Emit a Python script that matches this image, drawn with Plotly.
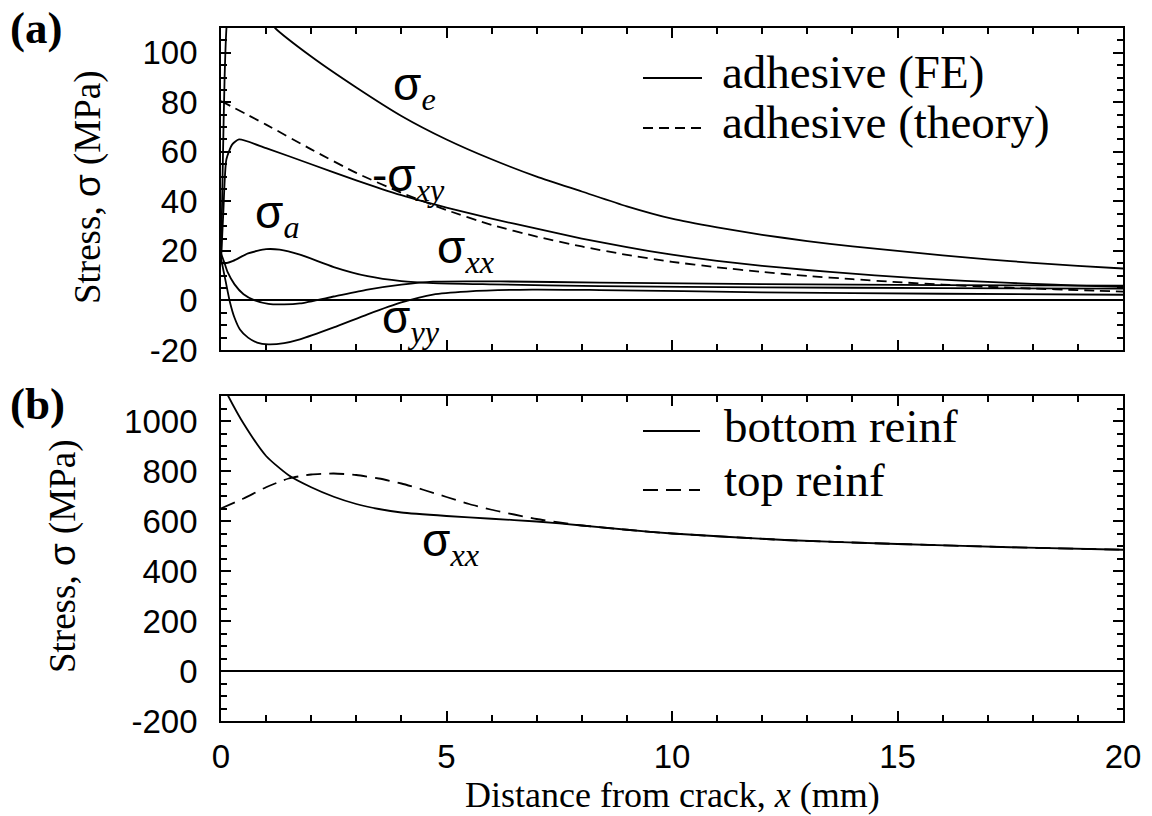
import plotly.graph_objects as go

# ---------------- data ----------------
# Panel (a): adhesive stresses (MPa) vs distance from crack x (mm)
se_x = [0, 0.04, 0.08, 0.13, 0.3, 0.7, 1.2, 2, 3, 4, 5, 6, 7, 8, 9, 10, 11, 12, 13, 14, 15, 16, 17, 18, 19, 20]
se_y = [16, 55, 90, 112, 130, 122, 110, 98.5, 86, 74.5, 65, 57, 50, 44, 38, 33, 29.5, 26.5, 24, 21.8, 20, 18.2, 16.6, 15.2, 14, 12.9]

sxy_x = [0, 0.05, 0.12, 0.25, 0.4, 1, 2, 3, 4, 5, 6, 7, 8, 9, 10, 11, 12, 13, 14, 15, 16, 17, 18, 19, 20]
sxy_y = [16, 35, 57, 63, 65, 61.5, 55, 48.5, 42.5, 37.5, 33, 29, 25, 21.5, 18.5, 16, 14, 12.3, 10.8, 9.5, 8.4, 7.5, 6.7, 6.0, 5.5]

theory_x = [0, 1, 2, 3, 4, 5, 6, 7, 8, 9, 10, 11, 12, 13, 14, 15, 16, 17, 18, 19, 20]
theory_y = [80.5, 71, 61, 51.5, 43.5, 36.5, 30.5, 25.8, 21.8, 18.4, 15.6, 13.4, 11.5, 9.9, 8.6, 7.4, 6.4, 5.5, 4.8, 4.2, 3.6]

sa_x = [0, 0.1, 0.27, 0.6, 1.0, 1.3, 1.75, 2.5, 3.25, 4.0, 4.7, 6.0, 8.4, 12, 16, 20]
sa_y = [15, 15, 16, 19, 20.7, 20.5, 18.5, 13.5, 9.8, 7.8, 7.0, 6.5, 5.8, 5.3, 5.0, 4.8]

sxx_x = [0, 0.08, 0.15, 0.3, 0.5, 0.75, 1.05, 1.4, 1.75, 2.5, 3.25, 4.0, 4.7, 6.2, 8.4, 12, 16, 20]
sxx_y = [19, 15, 11.3, 6.5, 2.5, 0, -1.4, -1.6, -1.2, 1.6, 4.4, 6.4, 7.6, 7.7, 7.2, 6.6, 6.2, 6.0]

syy_x = [0, 0.1, 0.2, 0.3, 0.42, 0.6, 0.8, 1.05, 1.4, 1.75, 2.5, 3.25, 4.0, 4.7, 5.45, 6.9, 8.4, 12, 16, 20]
syy_y = [17, 8, -0.8, -7, -11.7, -15, -17, -17.7, -17.2, -15.7, -10.9, -5.6, -0.8, 2.4, 3.6, 4.4, 4.2, 3.3, 2.7, 2.3]

# Panel (b): reinforcement stresses (MPa)
bot_x = [0, 0.16, 0.5, 1, 1.5, 2, 2.5, 3, 3.5, 4, 5, 6, 7, 8, 9, 10, 12.5, 15, 17.5, 20]
bot_y = [1160, 1100, 990, 860, 783, 735, 697, 668, 648, 634, 620, 609, 598, 582, 565, 550, 524, 508, 495, 485]

top_x = [0, 0.5, 1, 1.5, 2, 2.5, 3, 3.5, 4, 4.5, 5, 5.5, 6, 6.5, 7, 7.5, 8, 9, 10, 12.5, 15, 17.5, 20]
top_y = [650, 690, 735, 770, 786, 790, 784, 770, 750, 724, 696, 668, 645, 626, 608, 594, 582, 565, 550, 524, 508, 495, 485]

# tick labels
x_ticks = [0, 5, 10, 15, 20]
x_ticklabels = ["0", "5", "10", "15", "20"]
ya_ticks = [-20, 0, 20, 40, 60, 80, 100]
ya_ticklabels = ["-20", "0", "20", "40", "60", "80", "100"]
yb_ticks = [-200, 0, 200, 400, 600, 800, 1000]
yb_ticklabels = ["-200", "0", "200", "400", "600", "800", "1000"]

legend_a = ["adhesive (FE)", "adhesive (theory)"]
legend_b = ["bottom reinf", "top reinf"]

# ---------------- layout geometry ----------------
W, H = 1152, 816
L, R, T, B = 221, 1123, 28, 721
A_BOTTOM, B_TOP = 350, 396

def px_x(p):
    return (p - L) / (R - L)

def px_y(p):
    return (B - p) / (B - T)

SERIF = "Liberation Serif, Times New Roman, serif"
SANS = "Liberation Sans, Arial, sans-serif"
LW = 1.8

fig = go.Figure()

def add(x, y, ax, dash="solid", name=None):
    fig.add_trace(go.Scatter(x=x, y=y, mode="lines", name=name,
                             xaxis=ax[0], yaxis=ax[1],
                             line=dict(color="black", width=LW, dash=dash, shape="spline", smoothing=0.6),
                             showlegend=False, hoverinfo="skip"))

add(se_x, se_y, ("x", "y"), name="adhesive (FE)")
add(sxy_x, sxy_y, ("x", "y"))
add(sa_x, sa_y, ("x", "y"))
add(sxx_x, sxx_y, ("x", "y"))
add(syy_x, syy_y, ("x", "y"))
add(theory_x, theory_y, ("x", "y"), dash="10px,6px", name="adhesive (theory)")
add(bot_x, bot_y, ("x2", "y2"), name="bottom reinf")
add(top_x, top_y, ("x2", "y2"), dash="15px,8px", name="top reinf")

axis_common = dict(showline=True, linecolor="black", linewidth=1.8, mirror="allticks",
                   ticks="inside", ticklen=10, tickwidth=1.8, tickcolor="black",
                   showgrid=False,
                   tickfont=dict(family=SANS, size=33, color="black"))

def xaxis(show_labels, anchor, minor_dtick=1):
    d = dict(axis_common)
    d.update(range=[0, 20], tickmode="array", tickvals=x_ticks, ticktext=x_ticklabels,
             showticklabels=show_labels, anchor=anchor, zeroline=False,
             ticklabelstandoff=5,
             minor=dict(ticks="inside", ticklen=6, tickwidth=1.6, tickcolor="black",
                        tickmode="linear", tick0=0, dtick=minor_dtick, showgrid=False))
    return d

def yaxis(rng, vals, labels, minor_dtick, domain, anchor):
    d = dict(axis_common)
    d.update(range=rng, tickmode="array", tickvals=vals, ticktext=labels,
             domain=domain, anchor=anchor, zeroline=True, zerolinecolor="black",
             zerolinewidth=1.6, ticklabelstandoff=15,
             minor=dict(ticks="inside", ticklen=6, tickwidth=1.6, tickcolor="black",
                        tickmode="linear", tick0=0, dtick=minor_dtick, showgrid=False))
    return d

fig.update_layout(
    width=W, height=H,
    margin=dict(l=L, r=W - R, t=T, b=H - B, pad=0),
    paper_bgcolor="white", plot_bgcolor="white",
    showlegend=False,
    xaxis=xaxis(False, "y"),
    yaxis=yaxis([-20, 110], ya_ticks, ya_ticklabels, 5, [px_y(A_BOTTOM), 1], "x"),
    xaxis2=xaxis(True, "y2"),
    yaxis2=yaxis([-200, 1100], yb_ticks, yb_ticklabels, 50, [0, px_y(B_TOP)], "x2"),
)

ann = []

def text(px, py, s, size, family=SERIF, xanchor="left", yanchor="middle", angle=0):
    ann.append(dict(x=px_x(px), y=px_y(py), xref="paper", yref="paper", text=s,
                    showarrow=False, xanchor=xanchor, yanchor=yanchor, textangle=angle,
                    font=dict(family=family, size=size, color="black")))

# panel labels
text(36, 28, "<b>(a)</b>", 45, xanchor="center")
text(37, 404, "<b>(b)</b>", 45, xanchor="center")

# axis titles
ytitle = "Stress, <span style=\"font-family:Liberation Sans\">σ</span> (MPa)"
text(88, 187, ytitle, 37, xanchor="center", angle=-90)
text(63, 556, ytitle, 37, xanchor="center", angle=-90)
text(672, 795, "Distance from crack, <i>x</i> (mm)", 36, xanchor="center")

# curve labels
def sig(sub, prefix=""):
    return prefix + "σ<sub><span style=\"font-family:Liberation Serif\"><i>" + sub + "</i></span></sub>"

text(391, 87, sig("e"), 46, family=SANS)
text(370, 178, sig("xy", "-"), 46, family=SANS)
text(253, 215, sig("a"), 46, family=SANS)
text(435, 250, sig("xx"), 46, family=SANS)
text(380, 320, sig("yy"), 46, family=SANS)
text(420, 543, sig("xx"), 46, family=SANS)

# legends
text(720, 72, legend_a[0], 47)
text(720, 122, legend_a[1], 47)
text(722, 426, legend_b[0], 47)
text(722, 480, legend_b[1], 47)

fig.update_layout(annotations=ann)

shapes = []
def sample(x0, x1, py, dash):
    shapes.append(dict(type="line", xref="paper", yref="paper",
                       x0=px_x(x0), x1=px_x(x1), y0=px_y(py), y1=px_y(py),
                       line=dict(color="black", width=LW, dash=dash)))

sample(643, 702, 78, "solid")
sample(643, 702, 128, "10px,6px")
sample(643, 700, 431, "solid")
sample(643, 700, 490, "15px,8px")
fig.update_layout(shapes=shapes)

fig.write_html("out.html")
